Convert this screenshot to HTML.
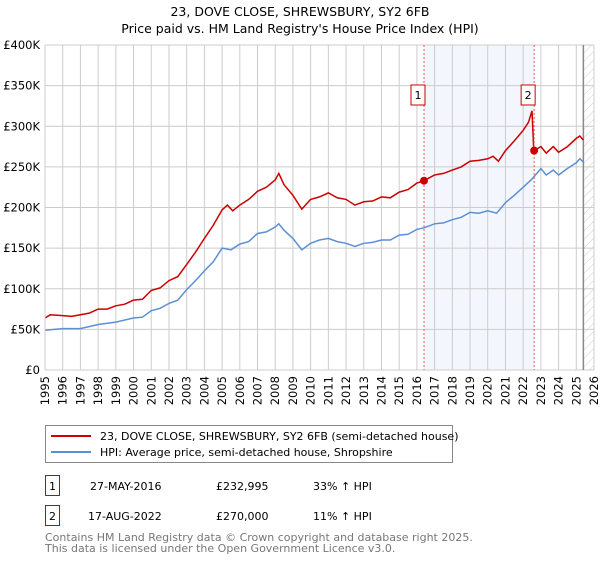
<!DOCTYPE html>
<html><head><meta charset="utf-8"><style>
body{margin:0;background:#fff;font-family:"DejaVu Sans","Liberation Sans",sans-serif;}
svg text{font-family:"DejaVu Sans","Liberation Sans",sans-serif;}
</style></head><body>
<svg id="c" width="600" height="560" xmlns="http://www.w3.org/2000/svg">
<defs><pattern id="hatch" width="6" height="6" patternUnits="userSpaceOnUse" patternTransform="rotate(45)"><line x1="0" y1="0" x2="0" y2="6" stroke="#ccc" stroke-width="1"/></pattern></defs>
<text x="300" y="16" text-anchor="middle" font-size="12.5">23, DOVE CLOSE, SHREWSBURY, SY2 6FB</text>
<text x="300" y="33" text-anchor="middle" font-size="12.5">Price paid vs. HM Land Registry's House Price Index (HPI)</text>
<g id="plot"></g>
<g>
<rect x="45.5" y="425.5" width="407" height="37" fill="#fff" stroke="#888"/>
<line x1="51" y1="436" x2="91" y2="436" stroke="#c00" stroke-width="2"/>
<text x="100" y="440" font-size="11">23, DOVE CLOSE, SHREWSBURY, SY2 6FB (semi-detached house)</text>
<line x1="51" y1="452" x2="91" y2="452" stroke="#5b8fd6" stroke-width="2"/>
<text x="100" y="456" font-size="11">HPI: Average price, semi-detached house, Shropshire</text>
</g>
<g font-size="11">
<rect x="45.5" y="475.5" width="14" height="20" fill="none" stroke="#c00"/>
<text x="52.5" y="490" text-anchor="middle">1</text>
<text x="90" y="490">27-MAY-2016</text><text x="216" y="490">£232,995</text><text x="313" y="490">33% ↑ HPI</text>
<rect x="45.5" y="505.5" width="14" height="20" fill="none" stroke="#c00"/>
<text x="52.5" y="520" text-anchor="middle">2</text>
<text x="88" y="520">17-AUG-2022</text><text x="216" y="520">£270,000</text><text x="313" y="520">11% ↑ HPI</text>
</g>
<text x="45" y="541" font-size="11" fill="#777">Contains HM Land Registry data © Crown copyright and database right 2025.</text>
<text x="45" y="552" font-size="11" fill="#777">This data is licensed under the Open Government Licence v3.0.</text>
</svg>
<script>
const yTicks=[0,50,100,150,200,250,300,350,400];
const yearTicks=[1995,1996,1997,1998,1999,2000,2001,2002,2003,2004,2005,2006,2007,2008,2009,2010,2011,2012,2013,2014,2015,2016,2017,2018,2019,2020,2021,2022,2023,2024,2025,2026];
const redX=[1995,1995.3,1996,1996.5,1997,1997.5,1998,1998.5,1999,1999.5,2000,2000.5,2001,2001.5,2002,2002.5,2003,2003.5,2004,2004.5,2005,2005.3,2005.6,2006,2006.5,2007,2007.5,2008,2008.2,2008.5,2009,2009.5,2010,2010.5,2011,2011.5,2012,2012.5,2013,2013.5,2014,2014.5,2015,2015.5,2016,2016.4,2017,2017.5,2018,2018.5,2019,2019.5,2020,2020.3,2020.6,2021,2021.5,2022,2022.3,2022.5,2022.6,2023,2023.3,2023.7,2024,2024.5,2025,2025.2,2025.4];
const redY=[64,68,67,66,68,70,75,75,79,81,86,87,98,101,110,115,130,145,162,178,197,203,196,203,210,220,225,234,242,228,215,198,210,213,218,212,210,203,207,208,213,212,219,222,230,233,240,242,246,250,257,258,260,263,257,270,282,295,305,319,270,275,267,275,268,275,285,288,283];
const blueX=[1995,1996,1997,1998,1999,2000,2000.5,2001,2001.5,2002,2002.5,2003,2003.5,2004,2004.5,2005,2005.5,2006,2006.5,2007,2007.5,2008,2008.2,2008.5,2009,2009.5,2010,2010.5,2011,2011.5,2012,2012.5,2013,2013.5,2014,2014.5,2015,2015.5,2016,2016.4,2017,2017.5,2018,2018.5,2019,2019.5,2020,2020.5,2021,2021.5,2022,2022.5,2023,2023.3,2023.7,2024,2024.5,2025,2025.2,2025.4];
const blueY=[49,51,51,56,59,64,65,73,76,82,86,99,110,122,133,150,148,155,158,168,170,176,180,172,162,148,156,160,162,158,156,152,156,157,160,160,166,167,173,175,180,181,185,188,194,193,196,193,206,215,225,235,248,240,246,240,248,255,260,256];
const sales=[[2016.4,233,"1"],[2022.62,270,"2"]];
const X=y=>45+(y-1995)*549/31, Y=v=>370-v*325/400;
const NS="http://www.w3.org/2000/svg", g=document.getElementById('plot');
function mk(t,a,txt){const e=document.createElementNS(NS,t);for(const k in a)e.setAttribute(k,a[k]);if(txt!=null)e.textContent=txt;g.appendChild(e);return e;}
let e=mk('rect',{x:X(2016.4),y:Y(400),width:X(2022.62)-X(2016.4),height:Y(0)-Y(400),fill:'#eef3fc',opacity:0.7});


yTicks.forEach(v=>{let l=mk('line',{x1:45,x2:594,y1:Y(v),y2:Y(v),stroke:'#ccc'});


let t=mk('text',{x:40,y:Y(v)+4,'text-anchor':'end','font-size':11.5},v===0?'£0':'£'+v+'K');

});
yearTicks.forEach(yr=>{let l=mk('line',{x1:X(yr),x2:X(yr),y1:Y(400),y2:Y(0),stroke:'#ccc'});


let t=mk('text',{x:0,y:0,'text-anchor':'end','font-size':11.5,transform:`translate(${X(yr)+4},${Y(0)+6}) rotate(-90)`},yr);

});
let h=mk('rect',{x:X(2025.4),y:Y(400),width:594-X(2025.4),height:Y(0)-Y(400),fill:'url(#hatch)',stroke:'none'});


let hl=mk('line',{x1:X(2025.4),x2:X(2025.4),y1:Y(400),y2:Y(0),stroke:'#888','stroke-width':1.5});


const line=(xs,ys)=>xs.map((x,i)=>X(x).toFixed(1)+','+Y(ys[i]).toFixed(1)).join(' ');
let b=mk('polyline',{points:line(blueX,blueY),fill:'none',stroke:'#5b8fd6','stroke-width':1.5});


let r=mk('polyline',{points:line(redX,redY),fill:'none',stroke:'#c00','stroke-width':1.5});


sales.forEach(s=>{let v=mk('line',{x1:X(s[0]),x2:X(s[0]),y1:Y(400),y2:Y(0),stroke:'#e55','stroke-dasharray':'2,2'});


let c=mk('circle',{cx:X(s[0]),cy:Y(s[1]),r:4,fill:'#c00'});


let bx=mk('rect',{x:X(s[0])-13,y:85,width:14,height:20,fill:'#fff',stroke:'#c00'});


let t=mk('text',{x:X(s[0])-6,y:99,'text-anchor':'middle','font-size':11},s[2]);

});
mk('line',{x1:45,x2:45,y1:Y(400),y2:Y(0),stroke:'#ccc'});
</script>
</body></html>
